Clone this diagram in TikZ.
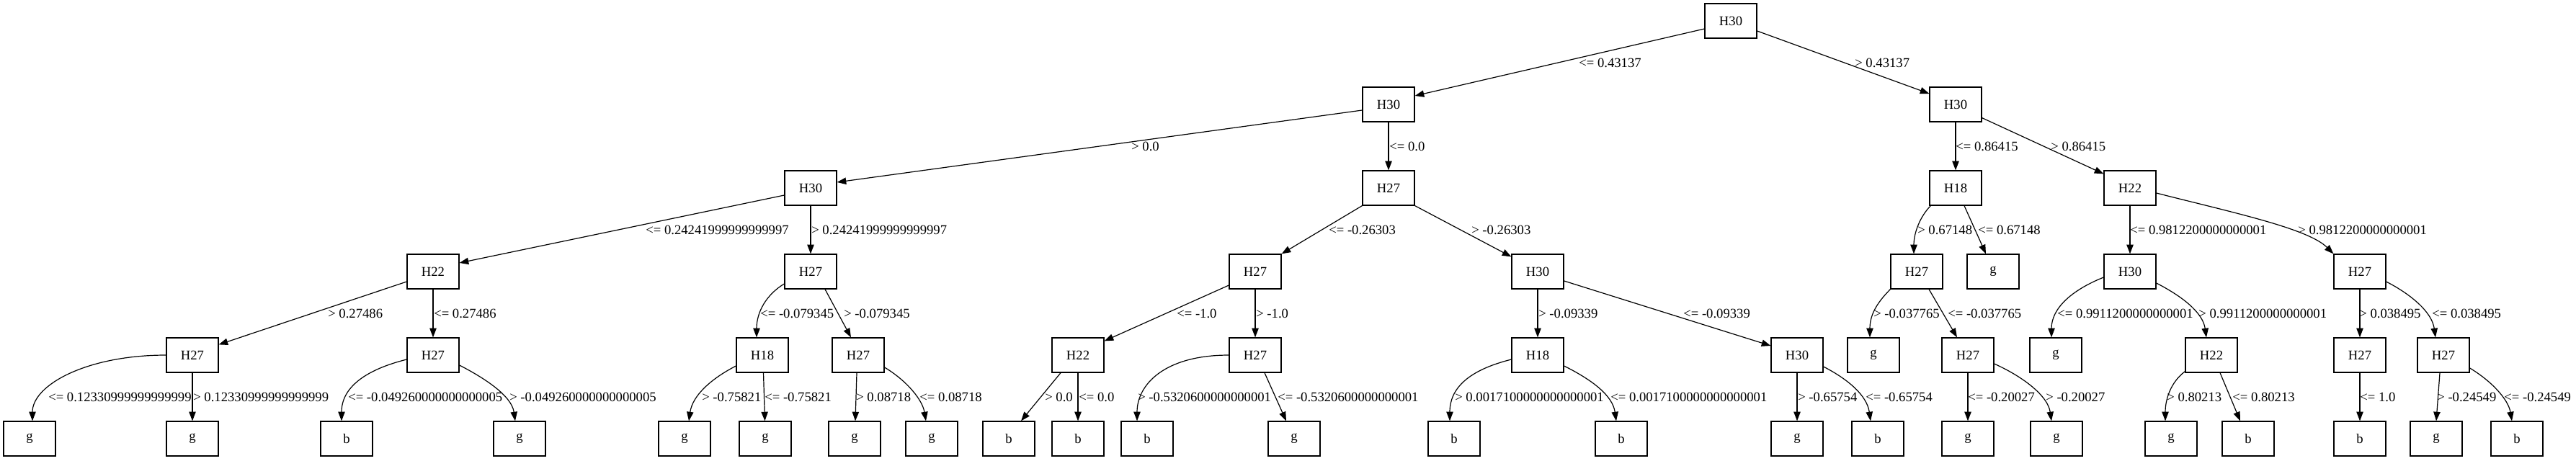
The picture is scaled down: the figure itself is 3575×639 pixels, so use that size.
\documentclass[tikz,border=0pt]{standalone}
\usepackage{fontspec}
\setmainfont{Liberation Serif}
\usetikzlibrary{arrows.meta,calc}
\begin{document}
\begin{tikzpicture}[x=0.75pt,y=-0.75pt,
  box/.style={draw, line width=0.9pt, minimum width=54pt, minimum height=36pt, inner sep=0pt, font=\fontsize{14pt}{16pt}\selectfont},
  lbl/.style={inner sep=0pt, anchor=base west, font=\fontsize{14pt}{16pt}\selectfont},
  edge/.style={line width=0.9pt, -{Triangle[length=9.5pt,width=7pt]}}]
\useasboundingbox (0,0) rectangle (3575,639);
% row 0-1
\node[box] (n0) at (2402,29) {H30};
\node[box] (n1) at (1927,145) {H30};
\node[box] (n2) at (2714,145) {H30};
% row 2
\node[box] (n3) at (1125,261) {H30};
\node[box] (n4) at (1927,261) {H27};
\node[box] (n5) at (2714,261) {H18};
\node[box] (n6) at (2956,261) {H22};
% row 3
\node[box] (n7) at (601,377) {H22};
\node[box] (n8) at (1125,377) {H27};
\node[box] (n9) at (1742,377) {H27};
\node[box] (n10) at (2134,377) {H30};
\node[box] (n11) at (2660,377) {H27};
\node[box] (n12) at (2766,377) {g};
\node[box] (n13) at (2956,377) {H30};
\node[box] (n14) at (3275,377) {H27};
% row 4
\node[box] (a1) at (267,493) {H27};
\node[box] (a2) at (601,493) {H27};
\node[box] (a3) at (1058,493) {H18};
\node[box] (a4) at (1191,493) {H27};
\node[box] (a5) at (1496,493) {H22};
\node[box] (a6) at (1742,493) {H27};
\node[box] (a7) at (2134,493) {H18};
\node[box] (a8) at (2494,493) {H30};
\node[box] (a9) at (2600,493) {g};
\node[box] (a10) at (2731,493) {H27};
\node[box] (a11) at (2853,493) {g};
\node[box] (a12) at (3069,493) {H22};
\node[box] (a13) at (3275,493) {H27};
\node[box] (a14) at (3391,493) {H27};
% row 5
\node[box] (l1) at (41,609) {g};
\node[box] (l2) at (267,609) {g};
\node[box] (l3) at (481,609) {b};
\node[box] (l4) at (721,609) {g};
\node[box] (l5) at (950,609) {g};
\node[box] (l6) at (1062,609) {g};
\node[box] (l7) at (1186,609) {g};
\node[box] (l8) at (1293,609) {g};
\node[box] (l9) at (1400,609) {b};
\node[box] (l10) at (1496,609) {b};
\node[box] (l11) at (1592,609) {b};
\node[box] (l12) at (1796,609) {g};
\node[box] (l13) at (2018,609) {b};
\node[box] (l14) at (2250,609) {b};
\node[box] (l15) at (2494,609) {g};
\node[box] (l16) at (2606,609) {b};
\node[box] (l17) at (2731,609) {g};
\node[box] (l18) at (2854,609) {g};
\node[box] (l19) at (3013,609) {g};
\node[box] (l20) at (3120,609) {b};
\node[box] (l21) at (3275,609) {b};
\node[box] (l22) at (3381,609) {g};
\node[box] (l23) at (3493,609) {b};

% edges row 0-1
\draw[edge] ($(n0.west)+(0,11)$) -- ($(n1.east)+(0,-12)$);
\draw[edge] ($(n0.east)+(0,14)$) -- ($(n2.west)+(0,-15)$);
\node[lbl] at (2191,93) {<= 0.43137};
\node[lbl] at (2574,93) {> 0.43137};
% row 1-2
\draw[edge] ($(n1.west)+(0,8)$) -- ($(n3.east)+(0,-8)$);
\draw[edge] (n1.south) -- (n4.north);
\draw[edge] (n2.south) -- (n5.north);
\draw[edge] ($(n2.south east)+(0,-6)$) -- ($(n6.north west)+(0,5)$);
\node[lbl] at (1570,209) {> 0.0};
\node[lbl] at (1928,209) {<= 0.0};
\node[lbl] at (2714,209) {<= 0.86415};
\node[lbl] at (2846,209) {> 0.86415};
% row 2-3
\draw[edge] ($(n3.west)+(0,10)$) -- ($(n7.east)+(0,-12)$);
\draw[edge] (n3.south) -- (n8.north);
\draw[edge] (n4.south west) -- (n9.north east);
\draw[edge] (n4.south east) -- ($(n10.north west)+(0,4)$);
\draw[edge] ($(n5.south west)+(2,0)$) .. controls +(-14,14) and +(0,-30) .. ($(n11.north)+(-4,0)$);
\draw[edge] ($(n5.south)+(12,0)$) -- ($(n12.north)+(-10,0)$);
\draw[edge] (n6.south) -- (n13.north);
\draw[edge] ($(n6.east)+(0,7)$) .. controls +(110,28) and +(-35,-35) .. (n14.north west);
\node[lbl] at (896,325) {<= 0.24241999999999997};
\node[lbl] at (1126,325) {> 0.24241999999999997};
\node[lbl] at (1844,325) {<= -0.26303};
\node[lbl] at (2042,325) {> -0.26303};
\node[lbl] at (2661,325) {> 0.67148};
\node[lbl] at (2745,325) {<= 0.67148};
\node[lbl] at (2956,325) {<= 0.9812200000000001};
\node[lbl] at (3189,325) {> 0.9812200000000001};
% row 3-4
\draw[edge] ($(n7.west)+(0,14)$) -- ($(a1.north east)+(0,10)$);
\draw[edge] (n7.south) -- (a2.north);
\draw[edge] ($(n8.west)+(0,17)$) .. controls +(-25,15) and +(0,-35) .. ($(a3.north)+(-8,0)$);
\draw[edge] ($(n8.south)+(20,0)$) -- ($(a4.north)+(-10,0)$);
\draw[edge] ($(n9.west)+(0,19)$) -- ($(a5.north east)+(0,5)$);
\draw[edge] (n9.south) -- (a6.north);
\draw[edge] (n10.south) -- (a7.north);
\draw[edge] ($(n10.east)+(0,13)$) -- ($(a8.west)+(0,-13)$);
\draw[edge] (n11.south west) .. controls +(-20,20) and +(0,-30) .. ($(a9.north)+(-5,0)$);
\draw[edge] ($(n11.south)+(17,0)$) -- ($(a10.north)+(-15,0)$);
\draw[edge] ($(n13.west)+(0,8)$) .. controls +(-45,18) and +(0,-40) .. ($(a11.north)+(-6,0)$);
\draw[edge] ($(n13.east)+(0,16)$) .. controls +(35,18) and +(-5,-35) .. ($(a12.north)+(-7,0)$);
\draw[edge] (n14.south) -- (a13.north);
\draw[edge] ($(n14.east)+(0,14)$) .. controls +(35,18) and +(-5,-35) .. ($(a14.north)+(-11,0)$);
\node[lbl] at (455,441) {> 0.27486};
\node[lbl] at (602,441) {<= 0.27486};
\node[lbl] at (1055,441) {<= -0.079345};
\node[lbl] at (1171,441) {> -0.079345};
\node[lbl] at (1633,441) {<= -1.0};
\node[lbl] at (1743,441) {> -1.0};
\node[lbl] at (2135,441) {> -0.09339};
\node[lbl] at (2336,441) {<= -0.09339};
\node[lbl] at (2600,441) {> -0.037765};
\node[lbl] at (2703,441) {<= -0.037765};
\node[lbl] at (2855,441) {<= 0.9911200000000001};
\node[lbl] at (3051,441) {> 0.9911200000000001};
\node[lbl] at (3274,441) {> 0.038495};
\node[lbl] at (3375,441) {<= 0.038495};
% row 4-5
\draw[edge] (a1.west) .. controls +(-110,0) and +(0,-50) .. ($(l1.north)+(4,0)$);
\draw[edge] (a1.south) -- (l2.north);
\draw[edge] ($(a2.west)+(0,6)$) .. controls +(-60,15) and +(0,-45) .. ($(l3.north)+(-7,0)$);
\draw[edge] ($(a2.east)+(0,14)$) .. controls +(35,18) and +(-5,-35) .. ($(l4.north)+(-6,0)$);
\draw[edge] ($(a3.west)+(0,15)$) .. controls +(-35,18) and +(5,-35) .. ($(l5.north)+(6,0)$);
\draw[edge] ($(a3.south)+(1.5,0)$) -- ($(l6.north)+(-0.5,0)$);
\draw[edge] ($(a4.south)+(-2,0)$) -- ($(l7.north)+(1,0)$);
\draw[edge] ($(a4.east)+(0,17)$) .. controls +(30,18) and +(-5,-30) .. ($(l8.north)+(-8,0)$);
\draw[edge] ($(a5.south)+(-24,0)$) -- ($(l9.north)+(17,0)$);
\draw[edge] (a5.south) -- (l10.north);
\draw[edge] (a6.west) .. controls +(-90,0) and +(0,-50) .. ($(l11.north)+(-14,0)$);
\draw[edge] ($(a6.south)+(13,0)$) -- ($(l12.north)+(-11,0)$);
\draw[edge] ($(a7.west)+(0,6)$) .. controls +(-60,15) and +(0,-45) .. ($(l13.north)+(-6,0)$);
\draw[edge] ($(a7.east)+(0,15)$) .. controls +(40,20) and +(-5,-35) .. ($(l14.north)+(-7,0)$);
\draw[edge] (a8.south) -- (l15.north);
\draw[edge] ($(a8.east)+(0,16)$) .. controls +(35,18) and +(-5,-35) .. ($(l16.north)+(-10,0)$);
\draw[edge] (a10.south) -- (l17.north);
\draw[edge] ($(a10.east)+(0,12)$) .. controls +(40,18) and +(-5,-35) .. ($(l18.north)+(-7,0)$);
\draw[edge] ($(a12.south west)+(0,-2)$) .. controls +(-20,15) and +(0,-30) .. ($(l19.north)+(-8,0)$);
\draw[edge] ($(a12.south)+(12,0)$) -- ($(l20.north)+(-11,0)$);
\draw[edge] (a13.south) -- (l21.north);
\draw[edge] ($(a14.south)+(-5,0)$) -- (l22.north);
\draw[edge] ($(a14.east)+(0,18)$) .. controls +(30,18) and +(-5,-30) .. ($(l23.north)+(-7,0)$);
\node[lbl] at (67,557) {<= 0.12330999999999999};
\node[lbl] at (268,557) {> 0.12330999999999999};
\node[lbl] at (483,557) {<= -0.049260000000000005};
\node[lbl] at (707,557) {> -0.049260000000000005};
\node[lbl] at (974,557) {> -0.75821};
\node[lbl] at (1061,557) {<= -0.75821};
\node[lbl] at (1188,557) {> 0.08718};
\node[lbl] at (1276,557) {<= 0.08718};
\node[lbl] at (1450,557) {> 0.0};
\node[lbl] at (1497,557) {<= 0.0};
\node[lbl] at (1579,557) {> -0.5320600000000001};
\node[lbl] at (1773,557) {<= -0.5320600000000001};
\node[lbl] at (2019,557) {> 0.0017100000000000001};
\node[lbl] at (2235,557) {<= 0.0017100000000000001};
\node[lbl] at (2495,557) {> -0.65754};
\node[lbl] at (2589,557) {<= -0.65754};
\node[lbl] at (2731,557) {<= -0.20027};
\node[lbl] at (2839,557) {> -0.20027};
\node[lbl] at (3007,557) {> 0.80213};
\node[lbl] at (3098,557) {<= 0.80213};
\node[lbl] at (3275,557) {<= 1.0};
\node[lbl] at (3382,557) {> -0.24549};
\node[lbl] at (3475,557) {<= -0.24549};
\end{tikzpicture}
\end{document}
